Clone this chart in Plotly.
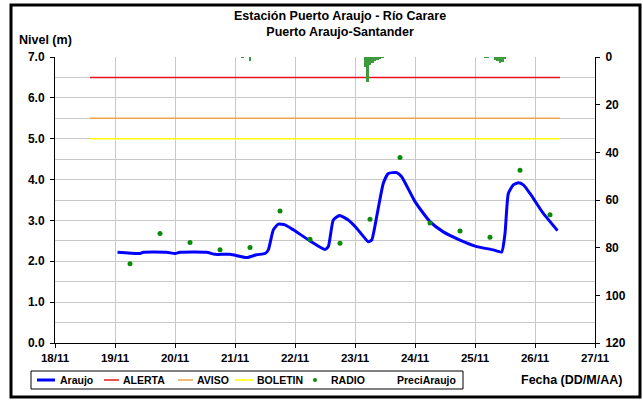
import plotly.graph_objects as go

# ---------------- data ----------------
araujo_time = [
    "2011-11-19 01:00", "2011-11-19 10:00", "2011-11-19 11:20", "2011-11-19 20:40",
    "2011-11-20 00:00", "2011-11-20 02:00", "2011-11-20 12:40", "2011-11-20 16:00",
    "2011-11-20 22:00", "2011-11-21 04:40", "2011-11-21 08:40", "2011-11-21 12:00",
    "2011-11-21 13:20", "2011-11-21 15:20", "2011-11-21 17:20", "2011-11-21 20:00",
    "2011-11-21 23:20", "2011-11-22 06:00", "2011-11-22 12:00", "2011-11-22 13:20",
    "2011-11-22 15:20", "2011-11-22 17:50", "2011-11-22 21:20", "2011-11-23 00:40",
    "2011-11-23 05:20", "2011-11-23 06:40", "2011-11-23 08:40", "2011-11-23 11:20",
    "2011-11-23 13:20", "2011-11-23 16:40", "2011-11-23 18:40", "2011-11-24 00:00",
    "2011-11-24 06:00", "2011-11-24 11:20", "2011-11-24 18:00", "2011-11-25 00:40",
    "2011-11-25 07:20", "2011-11-25 10:40", "2011-11-25 12:00", "2011-11-25 13:20",
    "2011-11-25 15:20", "2011-11-25 17:20", "2011-11-25 19:20", "2011-11-25 22:00",
    "2011-11-26 03:20", "2011-11-26 09:00",
]
araujo_level = [
    2.22, 2.19, 2.22, 2.22,
    2.19, 2.22, 2.22, 2.17,
    2.17, 2.09, 2.16, 2.19,
    2.28, 2.77, 2.91, 2.89,
    2.77, 2.50, 2.29, 2.36,
    3.01, 3.12, 3.01, 2.81,
    2.48, 2.52, 3.09, 3.91,
    4.15, 4.17, 4.07, 3.46,
    2.97, 2.72, 2.52, 2.36,
    2.28, 2.23, 2.68, 3.66,
    3.87, 3.92, 3.87, 3.66,
    3.17, 2.75,
]

radio_time = [
    "2011-11-19 06:00", "2011-11-19 18:00", "2011-11-20 06:00", "2011-11-20 18:00",
    "2011-11-21 06:00", "2011-11-21 18:00", "2011-11-22 06:00", "2011-11-22 18:00",
    "2011-11-23 06:00", "2011-11-23 18:00", "2011-11-24 06:00", "2011-11-24 18:00",
    "2011-11-25 06:00", "2011-11-25 18:00", "2011-11-26 06:00",
]
radio_level = [1.94, 2.68, 2.46, 2.28, 2.34, 3.23, 2.54, 2.44,
               3.03, 4.54, 2.94, 2.74, 2.59, 4.23, 3.14]

precip_time = [
    "2011-11-21 03:00", "2011-11-21 06:00",
    "2011-11-23 04:00", "2011-11-23 05:00", "2011-11-23 06:00", "2011-11-23 07:00",
    "2011-11-23 08:00", "2011-11-23 09:00", "2011-11-23 10:00", "2011-11-23 11:00",
    "2011-11-25 04:00", "2011-11-25 05:00", "2011-11-25 08:00", "2011-11-25 09:00",
    "2011-11-25 10:00", "2011-11-25 11:00", "2011-11-25 12:00",
]
precip_mm = [0.4, 1.8,
             4.0, 10.5, 3.5, 2.5, 1.5, 1.2, 0.8, 0.4,
             0.3, 0.3, 1.2, 1.5, 2.7, 2.2, 0.5]

threshold_time = ["2011-11-18 14:00", "2011-11-26 10:00"]
alerta_level = [6.5, 6.5]
aviso_level = [5.5, 5.5]
boletin_level = [5.0, 5.0]

x_range = ["2011-11-18", "2011-11-27"]
y_range = [0, 7]
y2_range = [120, 0]

legend_names = ["Araujo", "ALERTA", "AVISO", "BOLETIN", "RADIO", "PreciAraujo"]

# ---------------- styles ----------------
FONT = "Liberation Sans, Arial, sans-serif"
C_ARAUJO = "#0000FF"
C_ALERTA = "#E8141A"
C_AVISO = "#EDA64A"
C_BOLETIN = "#FFFF00"
C_RADIO = "#0A8A0A"
C_PRECI = "#3C9A3C"
grid = "#C8C8C8"

fig = go.Figure()

fig.add_trace(go.Bar(
    x=precip_time, y=precip_mm, yaxis="y2", name=legend_names[5],
    marker=dict(color=C_PRECI, line=dict(width=0)),
    width=3600000 * 0.9,
))
fig.add_trace(go.Scatter(
    x=araujo_time, y=araujo_level, name=legend_names[0], mode="lines",
    line=dict(color=C_ARAUJO, width=3, shape="spline", smoothing=0.5),
))
fig.add_trace(go.Scatter(
    x=threshold_time, y=alerta_level, name=legend_names[1], mode="lines",
    line=dict(color=C_ALERTA, width=1.5),
))
fig.add_trace(go.Scatter(
    x=threshold_time, y=aviso_level, name=legend_names[2], mode="lines",
    line=dict(color=C_AVISO, width=1.5),
))
fig.add_trace(go.Scatter(
    x=threshold_time, y=boletin_level, name=legend_names[3], mode="lines",
    line=dict(color=C_BOLETIN, width=1.5),
))
fig.add_trace(go.Scatter(
    x=radio_time, y=radio_level, name=legend_names[4], mode="markers",
    marker=dict(color=C_RADIO, size=5),
))

# ---- compact legend box drawn in paper coordinates (Excel-like) ----
W, H, L, T = 540.0, 286.0, 55.0, 57.0


def px(xpix):
    return (xpix - L) / W


def py(ypix):
    return (T + H - ypix) / H


ly = py(380)
shapes = [
    # outer chart border
    dict(type="rect", xref="paper", yref="paper",
         x0=px(11), x1=px(640), y0=py(397), y1=py(5),
         line=dict(color="black", width=3), layer="above"),
    # legend box
    dict(type="rect", xref="paper", yref="paper",
         x0=px(31), x1=px(463), y0=py(389), y1=py(371),
         line=dict(color="black", width=1), fillcolor="white", layer="above"),
]
legend_items = [
    (legend_names[0], "line", C_ARAUJO, 37, 55, 58, 3),
    (legend_names[1], "line", C_ALERTA, 104, 119, 121, 1.5),
    (legend_names[2], "line", C_AVISO, 178, 193, 195, 1.5),
    (legend_names[3], "line", C_BOLETIN, 235, 253, 255, 1.5),
    (legend_names[4], "dot", C_RADIO, 313, 317, 329, 0),
    (legend_names[5], "none", None, 0, 0, 395, 0),
]
annotations = []
for name, kind, col, xa, xb, xt, lw in legend_items:
    if kind == "line":
        shapes.append(dict(type="line", xref="paper", yref="paper",
                           x0=px(xa), x1=px(xb), y0=ly, y1=ly,
                           line=dict(color=col, width=lw), layer="above"))
    elif kind == "dot":
        shapes.append(dict(type="circle", xref="paper", yref="paper",
                           x0=px(xa), x1=px(xb), y0=py(382), y1=py(378),
                           line=dict(color=col, width=0), fillcolor=col,
                           layer="above"))
    annotations.append(dict(text=name, xref="paper", yref="paper",
                            x=px(xt), y=ly, xanchor="left", yanchor="middle",
                            showarrow=False, font=dict(size=10.5, weight="bold")))

annotations += [
    dict(text="Estación Puerto Araujo - Río Carare<br>Puerto Araujo-Santander",
         xref="paper", yref="paper", x=px(340), y=py(24),
         xanchor="center", yanchor="middle", showarrow=False,
         font=dict(size=12.5, weight="bold")),
    dict(text="Nivel (m)", xref="paper", yref="paper", x=px(45), y=py(40),
         xanchor="center", yanchor="middle", showarrow=False,
         font=dict(size=12.5, weight="bold")),
    dict(text="Fecha (DD/M/AA)", xref="paper", yref="paper", x=px(571), y=py(380),
         xanchor="center", yanchor="middle", showarrow=False,
         font=dict(size=12.5, weight="bold")),
]

fig.update_layout(
    width=643, height=401,
    margin=dict(l=55, r=48, t=57, b=58),
    paper_bgcolor="white", plot_bgcolor="white",
    font=dict(family=FONT, size=12, color="black", weight="bold"),
    showlegend=False,
    bargap=0,
    xaxis=dict(
        type="date", range=x_range, dtick=86400000, tickformat="%d/%m",
        showgrid=True, gridcolor=grid, gridwidth=1,
        showline=True, linecolor="black", linewidth=1,
        ticks="outside", ticklen=4, tickcolor="black",
        tickfont=dict(size=11.5), zeroline=False, automargin=False,
    ),
    yaxis=dict(
        range=y_range, dtick=1, tickformat=".1f",
        showgrid=True, gridcolor=grid, gridwidth=1,
        minor=dict(dtick=0.5, showgrid=True, gridcolor=grid, gridwidth=1),
        showline=True, linecolor="black", linewidth=1,
        ticks="outside", ticklen=4, tickcolor="black",
        tickfont=dict(size=12), zeroline=False, automargin=False,
        ticklabelstandoff=3,
    ),
    yaxis2=dict(
        range=y2_range, dtick=20, overlaying="y", side="right",
        showgrid=False, zeroline=False,
        showline=True, linecolor="black", linewidth=1,
        ticks="outside", ticklen=4, tickcolor="black",
        tickfont=dict(size=12), automargin=False,
        ticklabelstandoff=3,
    ),
    annotations=annotations,
    shapes=shapes,
)

fig.write_html(
    "out.html",
    config={"displayModeBar": False},
    post_script="document.body.style.margin='0';document.body.style.overflow='hidden';",
)
